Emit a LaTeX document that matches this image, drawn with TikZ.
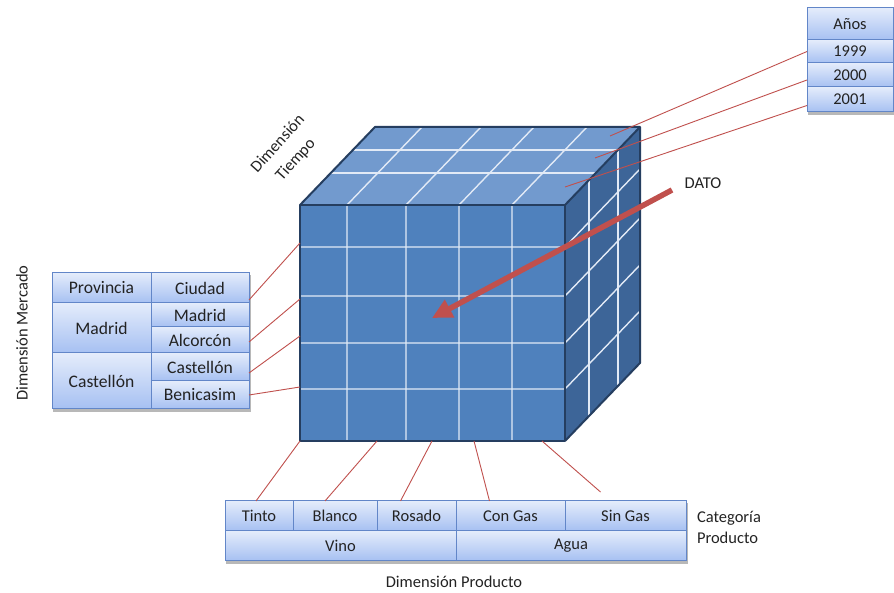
\documentclass[tikz,border=0pt]{standalone}
\usepackage{fontspec}
\setmainfont{Carlito}
\usetikzlibrary{arrows.meta}
\begin{document}
\begin{tikzpicture}[x=1pt,y=1pt,
  every node/.style={font=\fontsize{16.5}{21}\selectfont},
  cell/.style={draw=cellDraw,line width=1pt,top color=cellTop,bottom color=cellBottom,
    inner sep=0pt,outer sep=0pt,anchor=north west,text=textColor},
  bigcell/.style={cell,font=\fontsize{17.6}{21}\selectfont},
  dimtext/.style={text=textColor,inner sep=0pt,outer sep=0pt},
  leader/.style={draw=leaderColor,line width=0.9pt},
  gridline/.style={draw=gridColor,line width=1.4pt},
  cubeedge/.style={draw=edgeColor,line width=2pt,line join=round},
  bigarrow/.style={draw=leaderColor,line width=5.5pt,-{Triangle[length=20pt,width=19pt]}}]
\definecolor{fillColor}{RGB}{255,255,255}
\path[use as bounding box,fill=fillColor] (0,0) rectangle (894,593);
\definecolor{textColor}{RGB}{35,35,35}
\definecolor{cellDraw}{RGB}{98,134,200}
\definecolor{cellTop}{RGB}{228,236,251}
\definecolor{cellBottom}{RGB}{166,192,242}
\definecolor{shadowColor}{gray}{0.72}
\definecolor{leaderColor}{RGB}{192,80,77}
\definecolor{gridColor}{RGB}{226,234,246}
\definecolor{edgeColor}{RGB}{37,62,96}
\definecolor{frontColor}{RGB}{79,129,189}
\definecolor{topColor}{RGB}{114,154,206}
\definecolor{sideColor}{RGB}{61,101,152}

% cube
\coordinate (fbl) at (300,152);
\coordinate (fbr) at (565,152);
\coordinate (ftr) at (565,388);
\coordinate (ftl) at (300,388);
\coordinate (btl) at (375,466);
\coordinate (btr) at (640,466);
\coordinate (bbr) at (640,230);
\path[fill=frontColor] (fbl) rectangle (ftr);
\path[fill=topColor] (ftl) -- (btl) -- (btr) -- (ftr) -- cycle;
\path[fill=sideColor] (fbr) -- (ftr) -- (btr) -- (bbr) -- cycle;
\foreach \x in {347,406,459,512}
  \draw[gridline] (\x,152) -- (\x,388) -- ++(75,78);
\foreach \y in {204,250,297,346}
  \draw[gridline] (300,\y) -- (565,\y) -- ++(75,78);
\foreach \f in {0.41,0.705}
  \draw[gridline] (300+75*\f,388+78*\f) -- ++(265,0);
\foreach \f in {0.32,0.707}
  \draw[gridline] (565+75*\f,152+78*\f) -- ++(0,236);
\draw[cubeedge] (fbl) rectangle (ftr);
\draw[cubeedge] (ftl) -- (btl) -- (btr) -- (bbr) -- (fbr);
\draw[cubeedge] (ftr) -- (btr);

% years
\path[fill=shadowColor] (808,583) rectangle (895,478);
\node[cell,minimum width=86,minimum height=32] (anos) at (807,585) {Años};
\node[cell,minimum width=86,minimum height=23] (y1999) at (807,553) {1999};
\node[cell,minimum width=86,minimum height=24] (y2000) at (807,530) {2000};
\node[cell,minimum width=86,minimum height=25] (y2001) at (807,506) {2001};

% market
\path[fill=shadowColor] (53,318) rectangle (251,181);
\node[bigcell,minimum width=99,minimum height=30] (prov) at (52,320) {Provincia};
\node[bigcell,minimum width=98,minimum height=30] (ciudad) at (151,320) {Ciudad};
\node[bigcell,minimum width=99,minimum height=50] (pMadrid) at (52,290) {Madrid};
\node[bigcell,minimum width=98,minimum height=24] (cMadrid) at (151,290) {Madrid};
\node[bigcell,minimum width=98,minimum height=26] (cAlcorcon) at (151,266) {Alcorcón};
\node[bigcell,minimum width=99,minimum height=56] (pCastellon) at (52,240) {Castellón};
\node[bigcell,minimum width=98,minimum height=28] (cCastellon) at (151,240) {Castellón};
\node[bigcell,minimum width=98,minimum height=28] (cBenicasim) at (151,212) {Benicasim};

% product
\path[fill=shadowColor] (226,90) rectangle (688,29);
\node[cell,minimum width=68,minimum height=30] (tinto) at (225,92) {Tinto};
\node[cell,minimum width=84,minimum height=30] (blanco) at (293,92) {Blanco};
\node[cell,minimum width=79,minimum height=30] (rosado) at (377,92) {Rosado};
\node[cell,minimum width=109,minimum height=30] (congas) at (456,92) {Con Gas};
\node[cell,minimum width=121,minimum height=30] (singas) at (565,92) {Sin Gas};
\node[cell,minimum width=231,minimum height=30] (vino) at (225,62) {Vino};
\node[cell,minimum width=230,minimum height=30] (agua) at (456,62) {Agua};

% leaders
\coordinate (t1999) at (610,457);
\coordinate (t2000) at (595,435);
\coordinate (t2001) at (565,406);
\draw[leader] (y1999.west) -- (t1999);
\draw[leader] ([yshift=-5pt]y2000.west) -- (t2000);
\draw[leader] ([yshift=-6pt]y2001.west) -- (t2001);

\coordinate (m1) at (300,350);
\coordinate (m2) at (300,294);
\coordinate (m3) at (300,257);
\coordinate (m4) at (300,206);
\draw[leader] ([yshift=3pt]ciudad.south east) -- (m1);
\draw[leader] ([yshift=-2pt]cAlcorcon.east) -- (m2);
\draw[leader] ([yshift=-6pt]cCastellon.east) -- (m3);
\draw[leader] (cBenicasim.east) -- (m4);

\coordinate (b1) at (300,152);
\coordinate (b2) at (377,152);
\coordinate (b3) at (432,152);
\coordinate (b4) at (474,152);
\coordinate (b5) at (542,152);
\draw[leader] (b1) -- ([xshift=-3pt]tinto.north);
\draw[leader] (b2) -- ([xshift=-10pt]blanco.north);
\draw[leader] (b3) -- ([xshift=-16pt]rosado.north);
\draw[leader] (b4) -- ([xshift=-21pt]congas.north);
\draw[leader] (b5) -- ([xshift=-25pt,yshift=9pt]singas.north);

% dato
\node[dimtext] (dato) at (703,410) {DATO};
\coordinate (datoStart) at (672,403);
\coordinate (datoCell) at (432,275);
\draw[bigarrow] (datoStart) -- (datoCell);

% dimension labels
\node[dimtext,rotate=90] (dimMercado) at (22,260) {Dimensión Mercado};
\node[dimtext,rotate=48,align=center,font=\fontsize{16.5}{24}\selectfont] (dimTiempo) at (287,441) {Dimensión\\Tiempo};
\node[dimtext,align=left,anchor=west] (categoria) at (697,66) {Categoría\\Producto};
\node[dimtext] (dimProducto) at (454,11) {Dimensión Producto};
\end{tikzpicture}
\end{document}
